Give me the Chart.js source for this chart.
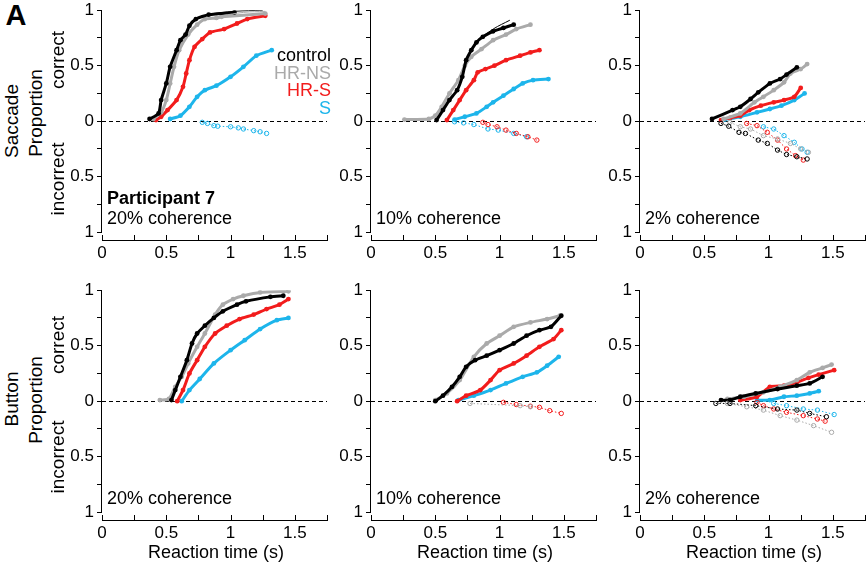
<!DOCTYPE html>
<html>
<head>
<meta charset="utf-8">
<script src="https://cdn.jsdelivr.net/npm/chart.js@4.4.1/dist/chart.umd.min.js"></script>
<style>
  html, body { margin: 0; padding: 0; background: #fff; }
  body { position: relative; width: 867px; height: 566px; overflow: hidden; font-family: 'Liberation Sans', Arial, sans-serif; }
  canvas { position: absolute; }
  .lbl { position: absolute; white-space: nowrap; line-height: 1; color: #000; }
</style>
</head>
<body>
<script>
// reaction time (s), proportion
// saccade, 20% coherence
const sac20Control = [[0.37,0.02],[0.44,0.07],[0.46,0.19],[0.50,0.34],[0.53,0.49],[0.58,0.64],[0.61,0.73],[0.65,0.78],[0.68,0.86],[0.73,0.92],[0.83,0.96],[1.03,0.98]];
const sac20HrNs = [[0.40,0.02],[0.46,0.08],[0.50,0.19],[0.53,0.34],[0.56,0.49],[0.60,0.64],[0.67,0.78],[0.74,0.87],[0.80,0.92],[0.89,0.93],[0.93,0.94],[1.27,0.97]];
const sac20HrS = [[0.42,0.01],[0.46,0.04],[0.51,0.10],[0.58,0.19],[0.63,0.31],[0.655,0.43],[0.68,0.55],[0.72,0.67],[0.78,0.74],[0.84,0.80],[0.95,0.83],[1.05,0.88],[1.13,0.92],[1.27,0.95]];
const sac20S = [[0.53,0.02],[0.61,0.05],[0.68,0.13],[0.74,0.22],[0.80,0.28],[0.89,0.32],[1.00,0.40],[1.10,0.49],[1.20,0.59],[1.32,0.64]];
const sac20SErr = [[0.78,0.01],[0.82,0.02],[0.87,0.04],[0.90,0.045],[1.00,0.05],[1.06,0.06],[1.10,0.07],[1.18,0.085],[1.23,0.095],[1.28,0.11]];
// fitted curves that run past the last points
const sac20ControlFit = [[0.83,0.965],[1.03,0.99],[1.25,1.0]];
const sac20HrNsFit = [[0.93,0.95],[1.10,0.98],[1.27,0.99]];

// saccade, 10% coherence
const sac10Control = [[0.51,0.01],[0.56,0.10],[0.61,0.19],[0.67,0.28],[0.71,0.40],[0.74,0.55],[0.78,0.64],[0.82,0.71],[0.87,0.76],[0.95,0.81],[1.03,0.84],[1.11,0.87]];
const sac10HrNs = [[0.26,0.015],[0.45,0.02],[0.50,0.05],[0.55,0.13],[0.61,0.25],[0.68,0.37],[0.73,0.50],[0.78,0.58],[0.86,0.65],[0.95,0.73],[1.05,0.78],[1.13,0.83],[1.24,0.87]];
const sac10HrS = [[0.59,0.01],[0.64,0.10],[0.69,0.19],[0.74,0.28],[0.80,0.37],[0.83,0.44],[0.89,0.47],[0.96,0.50],[1.05,0.55],[1.16,0.59],[1.24,0.62],[1.31,0.64]];
const sac10S = [[0.65,0.015],[0.73,0.04],[0.82,0.07],[0.90,0.13],[0.95,0.17],[1.03,0.23],[1.11,0.29],[1.18,0.34],[1.26,0.37],[1.38,0.38]];
const sac10HrSErr = [[0.87,0.01],[0.91,0.03],[0.98,0.05],[1.05,0.08],[1.13,0.11],[1.22,0.14],[1.29,0.17]];
const sac10SErr = [[0.65,0.005],[0.72,0.015],[0.80,0.03],[0.91,0.07],[0.99,0.08],[1.11,0.11],[1.21,0.14]];
const sac10ControlFit = [[0.82,0.72],[0.95,0.83],[1.08,0.91]];

// saccade, 2% coherence
const sac2Control = [[0.56,0.02],[0.72,0.10],[0.78,0.13],[0.86,0.20],[0.92,0.26],[1.01,0.34],[1.09,0.38],[1.14,0.42],[1.22,0.485]];
const sac2HrNs = [[0.65,0.02],[0.78,0.07],[0.89,0.17],[0.96,0.22],[1.04,0.28],[1.12,0.35],[1.17,0.43],[1.25,0.47],[1.30,0.515]];
const sac2HrS = [[0.63,0.01],[0.70,0.03],[0.78,0.05],[0.85,0.10],[0.94,0.14],[1.04,0.17],[1.12,0.19],[1.20,0.22],[1.25,0.30]];
const sac2S = [[0.66,0.015],[0.78,0.04],[0.91,0.08],[1.01,0.11],[1.10,0.14],[1.20,0.19],[1.28,0.25]];
const sac2ControlErr = [[0.63,0.02],[0.69,0.045],[0.77,0.10],[0.82,0.11],[0.92,0.17],[0.99,0.20],[1.07,0.26],[1.14,0.30],[1.22,0.32],[1.30,0.34]];
const sac2HrNsErr = [[0.70,0.01],[0.78,0.05],[0.86,0.07],[0.96,0.13],[1.07,0.16],[1.17,0.20],[1.25,0.25],[1.31,0.28]];
const sac2HrSErr = [[0.83,0.02],[0.91,0.04],[0.99,0.10],[1.07,0.17],[1.14,0.25],[1.21,0.31],[1.27,0.35]];
const sac2SErr = [[0.96,0.05],[1.04,0.07],[1.12,0.13],[1.20,0.19],[1.26,0.25],[1.30,0.28]];

// button, 20% coherence
const btn20Control = [[0.54,0.01],[0.57,0.10],[0.61,0.22],[0.66,0.37],[0.70,0.52],[0.74,0.61],[0.80,0.68],[0.87,0.75],[0.94,0.81],[1.05,0.87],[1.12,0.90],[1.31,0.94],[1.41,0.95]];
const btn20HrNs = [[0.45,0.01],[0.52,0.02],[0.57,0.13],[0.62,0.22],[0.67,0.34],[0.74,0.49],[0.80,0.61],[0.88,0.78],[0.94,0.87],[1.02,0.92],[1.10,0.95],[1.23,0.98],[1.45,0.99]];
const btn20HrS = [[0.585,0.0],[0.63,0.10],[0.68,0.25],[0.74,0.37],[0.80,0.49],[0.88,0.61],[0.97,0.68],[1.07,0.74],[1.18,0.78],[1.28,0.83],[1.38,0.87],[1.45,0.92]];
const btn20S = [[0.62,0.0],[0.68,0.10],[0.76,0.20],[0.87,0.34],[1.00,0.46],[1.11,0.55],[1.23,0.65],[1.36,0.73],[1.45,0.75]];

// button, 10% coherence
const btn10Control = [[0.50,0.0],[0.56,0.05],[0.63,0.13],[0.69,0.22],[0.74,0.31],[0.81,0.37],[0.90,0.41],[1.00,0.46],[1.11,0.52],[1.21,0.59],[1.31,0.64],[1.40,0.67],[1.48,0.77]];
const btn10HrNs = [[0.50,0.01],[0.59,0.07],[0.69,0.19],[0.80,0.40],[0.90,0.52],[1.00,0.59],[1.11,0.67],[1.24,0.71],[1.37,0.74],[1.47,0.77]];
const btn10HrS = [[0.67,0.0],[0.74,0.05],[0.85,0.10],[0.93,0.19],[1.00,0.28],[1.11,0.34],[1.21,0.41],[1.31,0.49],[1.42,0.56],[1.48,0.64]];
const btn10S = [[0.68,0.01],[0.80,0.05],[0.93,0.10],[1.05,0.16],[1.18,0.22],[1.29,0.26],[1.37,0.32],[1.46,0.40]];
const btn10HrNsErr = [[0.77,0.02],[1.16,0.04],[1.24,0.05]];
const btn10HrSErr = [[1.03,0.01],[1.13,0.03],[1.24,0.045],[1.31,0.055],[1.39,0.085],[1.48,0.11]];

// button, 2% coherence
const btn2Control = [[0.63,0.01],[0.70,0.01],[0.78,0.04],[0.90,0.07],[1.07,0.11],[1.22,0.14],[1.32,0.16],[1.42,0.22]];
const btn2HrNs = [[0.68,0.02],[0.81,0.04],[0.96,0.08],[1.09,0.13],[1.22,0.19],[1.32,0.26],[1.42,0.30],[1.49,0.33]];
const btn2HrS = [[0.78,0.01],[0.91,0.04],[1.01,0.13],[1.12,0.14],[1.22,0.17],[1.31,0.21],[1.39,0.24],[1.51,0.28]];
const btn2S = [[0.91,0.01],[1.01,0.01],[1.12,0.04],[1.22,0.05],[1.32,0.07],[1.39,0.09]];
const btn2ControlErr = [[0.59,0.02],[0.70,0.02],[0.90,0.04],[1.07,0.07],[1.22,0.08],[1.32,0.11],[1.45,0.14]];
const btn2HrNsErr = [[0.68,0.02],[0.83,0.05],[0.96,0.08],[1.09,0.13],[1.22,0.17],[1.35,0.22],[1.49,0.28]];
const btn2HrSErr = [[0.91,0.01],[0.96,0.04],[1.04,0.07],[1.14,0.10],[1.27,0.13],[1.38,0.16],[1.44,0.18]];
const btn2SErr = [[1.04,0.02],[1.14,0.04],[1.27,0.07],[1.38,0.08],[1.51,0.12]];

// axes
const xTickVals = [0, 0.25, 0.5, 0.75, 1, 1.25, 1.5, 1.75];
const xTickLabels = [0, 0.5, 1, 1.5];
const yTickVals = [-1, -0.75, -0.5, -0.25, 0, 0.25, 0.5, 0.75, 1];
const yTickLabels = [-1, -0.5, 0, 0.5, 1];

const groupNames = ['control', 'HR-NS', 'HR-S', 'S'];
const groupColors = ['#000000', '#aaaaaa', '#f21c1c', '#1db5eb'];

const FONT = "'Liberation Sans', Arial, sans-serif";
Chart.defaults.font.family = FONT;

const panels = [
  { left: 58, top: -3, note: '20% coherence', correct: [sac20Control, sac20HrNs, sac20HrS, sac20S], wrong: [null, null, null, sac20SErr], fits: [sac20ControlFit, sac20HrNsFit, null, null] },
  { left: 327, top: -3, note: '10% coherence', correct: [sac10Control, sac10HrNs, sac10HrS, sac10S], wrong: [null, null, sac10HrSErr, sac10SErr], fits: [sac10ControlFit, null, null, null] },
  { left: 596, top: -3, note: '2% coherence', correct: [sac2Control, sac2HrNs, sac2HrS, sac2S], wrong: [sac2ControlErr, sac2HrNsErr, sac2HrSErr, sac2SErr] },
  { left: 58, top: 277, note: '20% coherence', correct: [btn20Control, btn20HrNs, btn20HrS, btn20S], wrong: [null, null, null, null] },
  { left: 327, top: 277, note: '10% coherence', correct: [btn10Control, btn10HrNs, btn10HrS, btn10S], wrong: [null, btn10HrNsErr, btn10HrSErr, null] },
  { left: 596, top: 277, note: '2% coherence', correct: [btn2Control, btn2HrNs, btn2HrS, btn2S], wrong: [btn2ControlErr, btn2HrNsErr, btn2HrSErr, btn2SErr] }
];

// y axis line stops at -1, x ticks point inward, dashed zero line
const axesPlugin = {
  id: 'axesPlugin',
  beforeDatasetsDraw(chart) {
    const { ctx, chartArea, scales } = chart;
    const y0 = Math.round(scales.y.getPixelForValue(0)) + 0.5;
    ctx.save();
    ctx.strokeStyle = '#000';
    ctx.lineWidth = 1;
    ctx.setLineDash([4, 3]);
    ctx.beginPath();
    ctx.moveTo(chartArea.left, y0);
    ctx.lineTo(chartArea.right, y0);
    ctx.stroke();
    ctx.restore();
  },
  afterDraw(chart) {
    const { ctx, chartArea, scales } = chart;
    const xl = Math.round(chartArea.left) - 0.5;
    ctx.save();
    ctx.strokeStyle = '#000';
    ctx.lineWidth = 1;
    ctx.beginPath();
    ctx.moveTo(xl, scales.y.getPixelForValue(1));
    ctx.lineTo(xl, scales.y.getPixelForValue(-1) + 0.5);
    xTickVals.forEach(v => {
      const px = Math.round(scales.x.getPixelForValue(v)) + 0.5;
      ctx.moveTo(px, chartArea.bottom);
      ctx.lineTo(px, chartArea.bottom - 5);
    });
    ctx.stroke();
    ctx.restore();
  }
};

function makeDatasets(p) {
  const sets = [];
  (p.fits || []).forEach((arr, i) => {
    if (!arr) return;
    sets.push({
      data: arr.map(d => ({ x: d[0], y: d[1] })),
      showLine: true,
      borderColor: groupColors[i],
      borderWidth: 1,
      tension: 0.4,
      pointRadius: 0
    });
  });
  p.wrong.forEach((arr, i) => {
    if (!arr) return;
    sets.push({
      data: arr.map(d => ({ x: d[0], y: -d[1] })),
      showLine: true,
      borderColor: groupColors[i],
      borderWidth: 1,
      borderDash: [1.5, 2],
      pointRadius: 2.2,
      pointBorderWidth: 1,
      pointBorderColor: groupColors[i],
      pointBackgroundColor: 'rgba(255,255,255,0)'
    });
  });
  p.correct.forEach((arr, i) => {
    sets.push({
      data: arr.map(d => ({ x: d[0], y: d[1] })),
      showLine: true,
      borderColor: groupColors[i],
      borderWidth: 3,
      tension: 0.2,
      pointRadius: 2.4,
      pointBorderWidth: 0,
      pointBackgroundColor: groupColors[i]
    });
  });
  return sets;
}

panels.forEach(p => {
  const cv = document.createElement('canvas');
  cv.width = 275;
  cv.height = 271;
  cv.style.left = p.left + 'px';
  cv.style.top = p.top + 'px';
  document.body.appendChild(cv);

  new Chart(cv.getContext('2d'), {
    type: 'scatter',
    data: { datasets: makeDatasets(p) },
    options: {
      responsive: false,
      animation: false,
      events: [],
      layout: { padding: { top: 12, right: 6, left: 0, bottom: 0 } },
      plugins: { legend: { display: false }, tooltip: { enabled: false } },
      scales: {
        x: {
          type: 'linear',
          min: 0,
          max: 1.75,
          afterBuildTicks: s => { s.ticks = xTickVals.map(v => ({ value: v })); },
          afterFit: s => { s.height = 28; },
          grid: { drawOnChartArea: false, drawTicks: false },
          border: { display: true, color: '#000', width: 1 },
          ticks: {
            autoSkip: false,
            maxRotation: 0,
            padding: 3,
            color: '#000',
            font: { size: 17 },
            callback: v => xTickLabels.includes(v) ? String(v) : ''
          }
        },
        y: {
          type: 'linear',
          min: -1.07,
          max: 1,
          afterBuildTicks: s => { s.ticks = yTickVals.map(v => ({ value: v })); },
          afterFit: s => { s.width = 44; },
          grid: { drawOnChartArea: false, drawTicks: true, tickLength: 5, color: '#000' },
          border: { display: false },
          ticks: {
            autoSkip: false,
            padding: 3,
            color: '#000',
            font: { size: 17 },
            callback: v => yTickLabels.includes(v) ? String(Math.abs(v)) : ''
          }
        }
      }
    },
    plugins: [axesPlugin]
  });
});

function addText(txt, x, y, o = {}) {
  const d = document.createElement('div');
  d.className = 'lbl';
  d.textContent = txt;
  d.style.left = x + 'px';
  d.style.top = y + 'px';
  d.style.fontSize = (o.size || 18) + 'px';
  if (o.bold) d.style.fontWeight = 'bold';
  if (o.color) d.style.color = o.color;
  let tf = o.align === 'left' ? 'translate(0,-50%)' : o.align === 'right' ? 'translate(-100%,-50%)' : 'translate(-50%,-50%)';
  if (o.rotate) tf += ' rotate(-90deg)';
  d.style.transform = tf;
  document.body.appendChild(d);
}

addText('A', 16, 15, { size: 29, bold: true });

// row labels
addText('Saccade', 11, 121, { size: 19, rotate: true });
addText('Proportion', 35, 113, { size: 19, rotate: true });
addText('correct', 57, 60, { size: 19, rotate: true });
addText('incorrect', 57, 179, { size: 19, rotate: true });
addText('Button', 11, 399, { size: 19, rotate: true });
addText('Proportion', 35, 400, { size: 19, rotate: true });
addText('correct', 57, 345, { size: 19, rotate: true });
addText('incorrect', 57, 457, { size: 19, rotate: true });

// legend
groupNames.forEach((g, i) => addText(g, 331, 55 + i * 17.5, { size: 18, color: groupColors[i], align: 'right' }));

addText('Participant 7', 107, 198, { size: 18, bold: true, align: 'left' });
const noteX = [107, 376, 645];
panels.forEach((p, i) => addText(p.note, noteX[i % 3], i < 3 ? 218 : 498, { size: 18, align: 'left' }));

['Reaction time (s)', 'Reaction time (s)', 'Reaction time (s)'].forEach((t, i) => addText(t, 216 + i * 269, 552, { size: 18 }));
</script>
</body>
</html>
